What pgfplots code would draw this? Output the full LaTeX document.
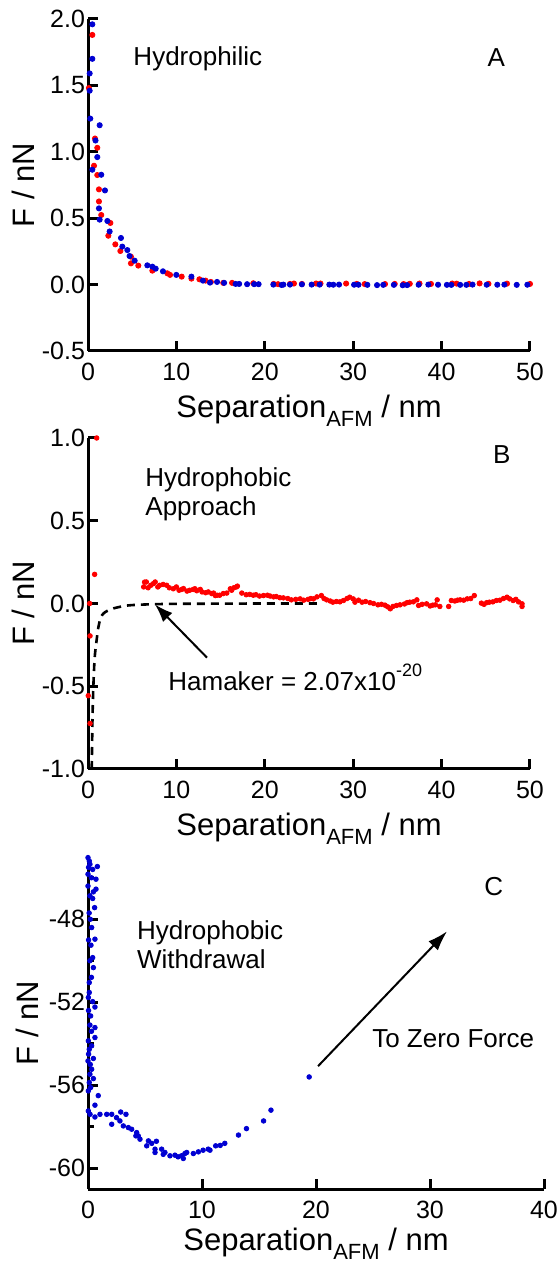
\documentclass[border=0pt]{standalone}
\usepackage{fontspec}
\setmainfont{Liberation Sans}
\usepackage{pgfplots}
\pgfplotsset{compat=1.18}
\usetikzlibrary{arrows.meta}
\definecolor{dotred}{RGB}{255,0,0}
\definecolor{dotblue}{RGB}{0,0,210}
\newcommand{\sepl}{Separation\raisebox{-4.5pt}{\fontsize{11}{12}\selectfont AFM} / nm}
\newcommand{\lfont}{\fontsize{15.5}{18}\selectfont}
\tikzset{txt/.style={font=\fontsize{13}{15}\selectfont, inner sep=0pt, anchor=base west}}
\pgfplotsset{
  panel/.style={
    scale only axis, anchor=south west,
    axis x line=bottom, axis y line=left,
    axis line style={-, line width=1.5pt},
    tick align=inside, major tick length=5pt, minor tick length=3pt,
    every tick/.style={black, line width=1.5pt},
    tick label style={font=\fontsize{12.5}{14}\selectfont},
    xticklabel style={yshift=-2.5pt},
    yticklabel style={xshift=2pt},
    clip=false,
    /pgf/number format/assume math mode=true,
  },
}
\begin{document}
\begin{tikzpicture}
\useasboundingbox (0,0) rectangle (280pt,634pt);
% ---------------- Panel A
\begin{axis}[panel, at={(44pt,458.5pt)}, width=221pt, height=166pt,
  xmin=0, xmax=50, ymin=-0.5, ymax=2.0,
  xtick={0,10,20,30,40,50}, xticklabels={0,10,20,30,40,50},
  ytick={-0.5,0,0.5,1,1.5,2}, yticklabels={-0.5,0.0,0.5,1.0,1.5,2.0},
  xlabel={\sepl}, ylabel={F / nN},
  every axis x label/.style={at={(axis description cs:0.5,-0.2)}, anchor=base, font=\lfont},
  every axis y label/.style={at={(axis description cs:-0.1471,0.5)}, rotate=90, anchor=center, font=\lfont},
]
\addplot[only marks, mark=*, mark size=1.3pt, color=dotred] coordinates {
(0.49,1.88)(0.1,1.48)(0.79,1.10)(1.05,1.03)(0.68,0.895)(1.05,0.825)(1.24,0.717)(1.24,0.626)(1.5,0.524)(2.53,0.464)(2.3,0.368)(3.09,0.303)(3.66,0.253)(4.86,0.21)(4.86,0.16)(5.69,0.143)(7.28,0.105)(8.97,0.085)(9.28,0.073)(10.6,0.06)(11.7,0.045)(12.6,0.04)(13.3,0.03)(13.9,0.02)(15.3,0.013)(16.3,0.013)(18.7,0.01)(21,0.005)(21.5,0.003)(22.85,0.005)(23.3,0.008)(24.2,0.005)(25.8,0.008)(26.3,0.008)(29.2,0.008)(30.4,0.005)(31.3,0.004)(33.6,0.004)(34.7,0.005)(35.7,0.004)(36.4,0.006)(37.5,0.008)(38.8,0.005)(41.2,0.008)(41.7,0.007)(43.1,0.005)(44.3,0.009)(45.3,0.006)(47.4,0.007)(50.0,0.005)
};
\addplot[only marks, mark=*, mark size=1.3pt, color=dotblue] coordinates {
(0.49,1.96)(0.49,1.70)(0.19,1.59)(0.19,1.46)(0.26,1.25)(1.32,1.20)(0.85,1.085)(1.05,0.96)(0.49,0.865)(1.5,0.827)(1.92,0.709)(1.24,0.574)(1.32,0.489)(2.19,0.479)(2.45,0.40)(3.73,0.351)(3.88,0.286)(4.45,0.26)(4.7,0.215)(5.28,0.18)(6.71,0.145)(7.28,0.135)(7.66,0.12)(8.48,0.10)(9.99,0.073)(11.7,0.06)(13.0,0.03)(13.8,0.015)(14.6,0.02)(15.4,0.013)(16.7,0.005)(17.1,0.005)(18.0,0.003)(18.8,0.003)(19.3,0.003)(20.97,0.0)(21.9,-0.003)(22.1,0.0)(22.85,0.0)(24.2,0.002)(25.3,0.0)(26.2,0.0)(27.3,0.0)(27.75,-0.001)(28.4,0.0)(30.1,-0.001)(30.6,-0.001)(31.6,-0.002)(32.7,-0.004)(33.4,-0.002)(34.6,-0.002)(35.6,-0.005)(36.1,-0.004)(37.4,-0.001)(38.5,0.0)(39.6,-0.001)(40.6,-0.002)(41.1,-0.002)(42.1,-0.002)(42.8,-0.002)(43.5,0.0)(45.1,-0.001)(46.3,-0.001)(47.1,0.0)(48.5,-0.002)(49.7,-0.001)
};
\node[txt] at (axis cs:5.1,1.647) {Hydrophilic};
\node[txt, anchor=base] at (axis cs:46.2,1.64) {A};
\end{axis}
% ---------------- Panel B
\begin{axis}[panel, at={(44pt,249.5pt)}, width=221pt, height=165.5pt,
  xmin=0, xmax=50, ymin=-1, ymax=1,
  xtick={0,10,20,30,40,50}, xticklabels={0,10,20,30,40,50},
  ytick={-1,-0.5,0,0.5,1}, yticklabels={-1.0,-0.5,0.0,0.5,1.0},
  xlabel={\sepl}, ylabel={F / nN},
  every axis x label/.style={at={(axis description cs:0.5,-0.202)}, anchor=base, font=\lfont},
  every axis y label/.style={at={(axis description cs:-0.1471,0.5)}, rotate=90, anchor=center, font=\lfont},
]
\addplot[black, line width=1.3pt, dash pattern=on 4pt off 3pt, smooth] coordinates {
(0.42,-1.0)(0.45,-0.9)(0.5,-0.72)(0.55,-0.6)(0.6,-0.51)(0.7,-0.38)(0.8,-0.3)(0.98,-0.22)(1.15,-0.15)(1.36,-0.10)(1.6,-0.07)(2.0,-0.05)(2.86,-0.03)(4,-0.016)(4.9,-0.01)(7,-0.005)(10,-0.002)(15,-0.001)(20,0)(26,0)
};
\addplot[only marks, mark=*, mark size=1.15pt, color=dotred] coordinates {
(0.98,1.0)(0.75,0.176)(0.19,0.0)(0.23,-0.196)(0.03,-0.557)(0.23,-0.725)
(6.3,0.10)(6.4,0.129)(6.6,0.13)(6.8,0.095)(7.1,0.11)(7.4,0.12)(7.6,0.13)(7.9,0.10)(8.1,0.11)(8.5,0.115)(8.9,0.11)(9.2,0.095)(9.65,0.089)(10.0,0.10)(10.3,0.08)(10.6,0.085)(10.8,0.09)(11.2,0.075)(11.5,0.08)(11.9,0.085)(12.1,0.089)(12.3,0.077)(12.7,0.085)(12.9,0.07)(13.3,0.065)(13.6,0.07)(14.0,0.06)(14.2,0.063)(14.4,0.048)(14.6,0.05)(14.9,0.05)(15.3,0.06)(15.7,0.063)(16.1,0.089)(16.25,0.08)(16.5,0.095)(16.8,0.1)(16.9,0.105)(17.4,0.063)(17.9,0.053)(18.3,0.055)(18.7,0.05)(19.0,0.053)(19.4,0.045)(19.85,0.048)(20.3,0.05)(20.6,0.045)(21.0,0.04)(21.3,0.042)(21.7,0.035)(22.1,0.034)(22.6,0.03)(23.0,0.022)(23.5,0.025)(24.0,0.028)(24.4,0.02)(24.9,0.025)(25.2,0.03)(25.5,0.028)(25.9,0.04)(26.4,0.048)(26.7,0.03)(27.0,0.022)(27.4,0.015)(27.7,0.008)(28.1,0.012)(28.5,0.01)(28.9,0.018)(29.3,0.03)(29.6,0.038)(30.0,0.028)(30.2,0.008)(30.6,0.02)(31.0,0.008)(31.4,0.012)(31.9,0.005)(32.3,0.0)(32.8,-0.008)(33.2,-0.005)(33.6,-0.01)(33.9,-0.02)(34.2,-0.032)(34.5,-0.018)(34.9,-0.012)(35.3,-0.008)(35.8,-0.003)(36.1,0.005)(36.4,0.008)(36.8,0.01)(37.2,0.022)(37.4,-0.012)(37.8,-0.005)(38.3,-0.002)(38.7,-0.015)(39.0,-0.01)(39.3,-0.008)(39.5,0.022)(39.8,-0.018)(40.8,-0.018)(41.1,0.018)(41.5,0.015)(41.8,0.02)(42.1,0.022)(42.5,0.02)(42.9,0.028)(43.3,0.03)(43.7,0.048)(44.5,0.002)(44.8,-0.005)(45.1,0.005)(45.4,0.008)(45.8,0.01)(46.2,0.018)(46.6,0.02)(47.0,0.03)(47.4,0.038)(47.7,0.028)(48.1,0.018)(48.4,0.025)(48.7,0.01)(49.1,-0.002)(49.1,-0.018)
};
\node[txt] at (axis cs:6.45,0.709) {Hydrophobic};
\node[txt] at (axis cs:6.45,0.533) {Approach};
\node[txt, anchor=base] at (axis cs:46.8,0.848) {B};
\node[txt] at (axis cs:9.05,-0.527) {Hamaker = 2.07x10\raisebox{7pt}{\fontsize{9}{10}\selectfont -20}};
\draw[line width=1pt, -{Latex[length=9pt,width=6.5pt]}] (axis cs:13.46,-0.327) -- (axis cs:7.58,-0.006);
\end{axis}
% ---------------- Panel C
\begin{axis}[panel, at={(44pt,39.5pt)}, width=228pt, height=166pt,
  xmin=0, xmax=40, ymin=-61, ymax=-45,
  xtick={0,10,20,30,40}, xticklabels={0,10,20,30,40},
  ytick={-60,-56,-52,-48}, yticklabels={-60,-56,-52,-48},
  minor ytick={-58,-54,-50,-46},
  xlabel={\sepl}, ylabel={F / nN},
  every axis x label/.style={at={(axis description cs:0.5,-0.184)}, anchor=base, font=\lfont},
  every axis y label/.style={at={(axis description cs:-0.1338,0.5)}, rotate=90, anchor=center, font=\lfont},
]
\addplot[only marks, mark=*, mark size=1.15pt, color=dotblue] coordinates {
(0.0,-45.03)(0.11,-45.19)(0.17,-45.35)(0.82,-45.46)(0.41,-45.6)(0.0,-45.83)(0.7,-46.07)(0.0,-46.4)(0.7,-46.55)(0.47,-46.68)(0.17,-46.87)(0.41,-47.0)(0.58,-47.44)(0.32,-48.4)(0.61,-48.96)(0.26,-49.25)(0.41,-49.85)(0.17,-50.0)(0.47,-50.33)(0.11,-51.05)(0.11,-51.53)(0.03,-51.77)(0.41,-51.97)(0.61,-52.23)(0.23,-52.66)(0.17,-53.1)(0.61,-53.22)(0.61,-53.7)(0.03,-53.86)(0.32,-54.1)(0.11,-54.27)(0.47,-54.71)(0.0,-54.83)(0.32,-55.23)(0.17,-55.47)(0.47,-55.68)(0.11,-55.87)(0.23,-56.11)(0.03,-56.27)(0.9,-56.5)(0.61,-56.96)(0.03,-57.24)(0.18,-57.4)(0.61,-57.53)
(0.05,-45.5)(0.3,-46.0)(0.1,-47.7)(0.2,-48.0)(0.05,-49.0)(0.3,-50.8)(0.05,-52.4)(0.3,-53.4)(0.05,-54.5)(0.2,-55.0)
(1.05,-57.4)(1.64,-57.4)(2.08,-57.4)(2.08,-57.88)(2.5,-57.56)(2.87,-57.29)(3.33,-57.4)(2.8,-57.72)(3.1,-57.96)(3.54,-58.04)(3.83,-58.12)(4.27,-58.28)(4.41,-58.44)(4.2,-58.44)(4.56,-58.6)(5.15,-58.92)(5.3,-58.68)(5.59,-58.8)(5.88,-59.08)(6.0,-58.7)(5.88,-59.24)(6.46,-59.08)(6.6,-59.33)(6.75,-59.24)(7.19,-59.4)(7.63,-59.37)(7.9,-59.45)(8.2,-59.4)(8.36,-59.53)(8.5,-59.29)(8.66,-59.24)(9.24,-59.29)(9.68,-59.21)(10.1,-59.13)(10.55,-59.08)(10.7,-59.13)(11.2,-58.92)(11.6,-58.9)(12.0,-58.8)(13.2,-58.4)(13.9,-58.09)(15.4,-57.72)(16.05,-57.2)(19.4,-55.6)
};
\node[txt] at (axis cs:4.27,-48.96) {Hydrophobic};
\node[txt] at (axis cs:4.27,-50.36) {Withdrawal};
\node[txt, anchor=base] at (axis cs:35.6,-46.84) {C};
\node[txt] at (axis cs:24.9,-54.17) {To Zero Force};
\draw[line width=1pt, -{Latex[length=10pt,width=6.5pt]}] (axis cs:20.18,-55.08) -- (axis cs:31.5,-48.58);
\end{axis}
\end{tikzpicture}
\end{document}
